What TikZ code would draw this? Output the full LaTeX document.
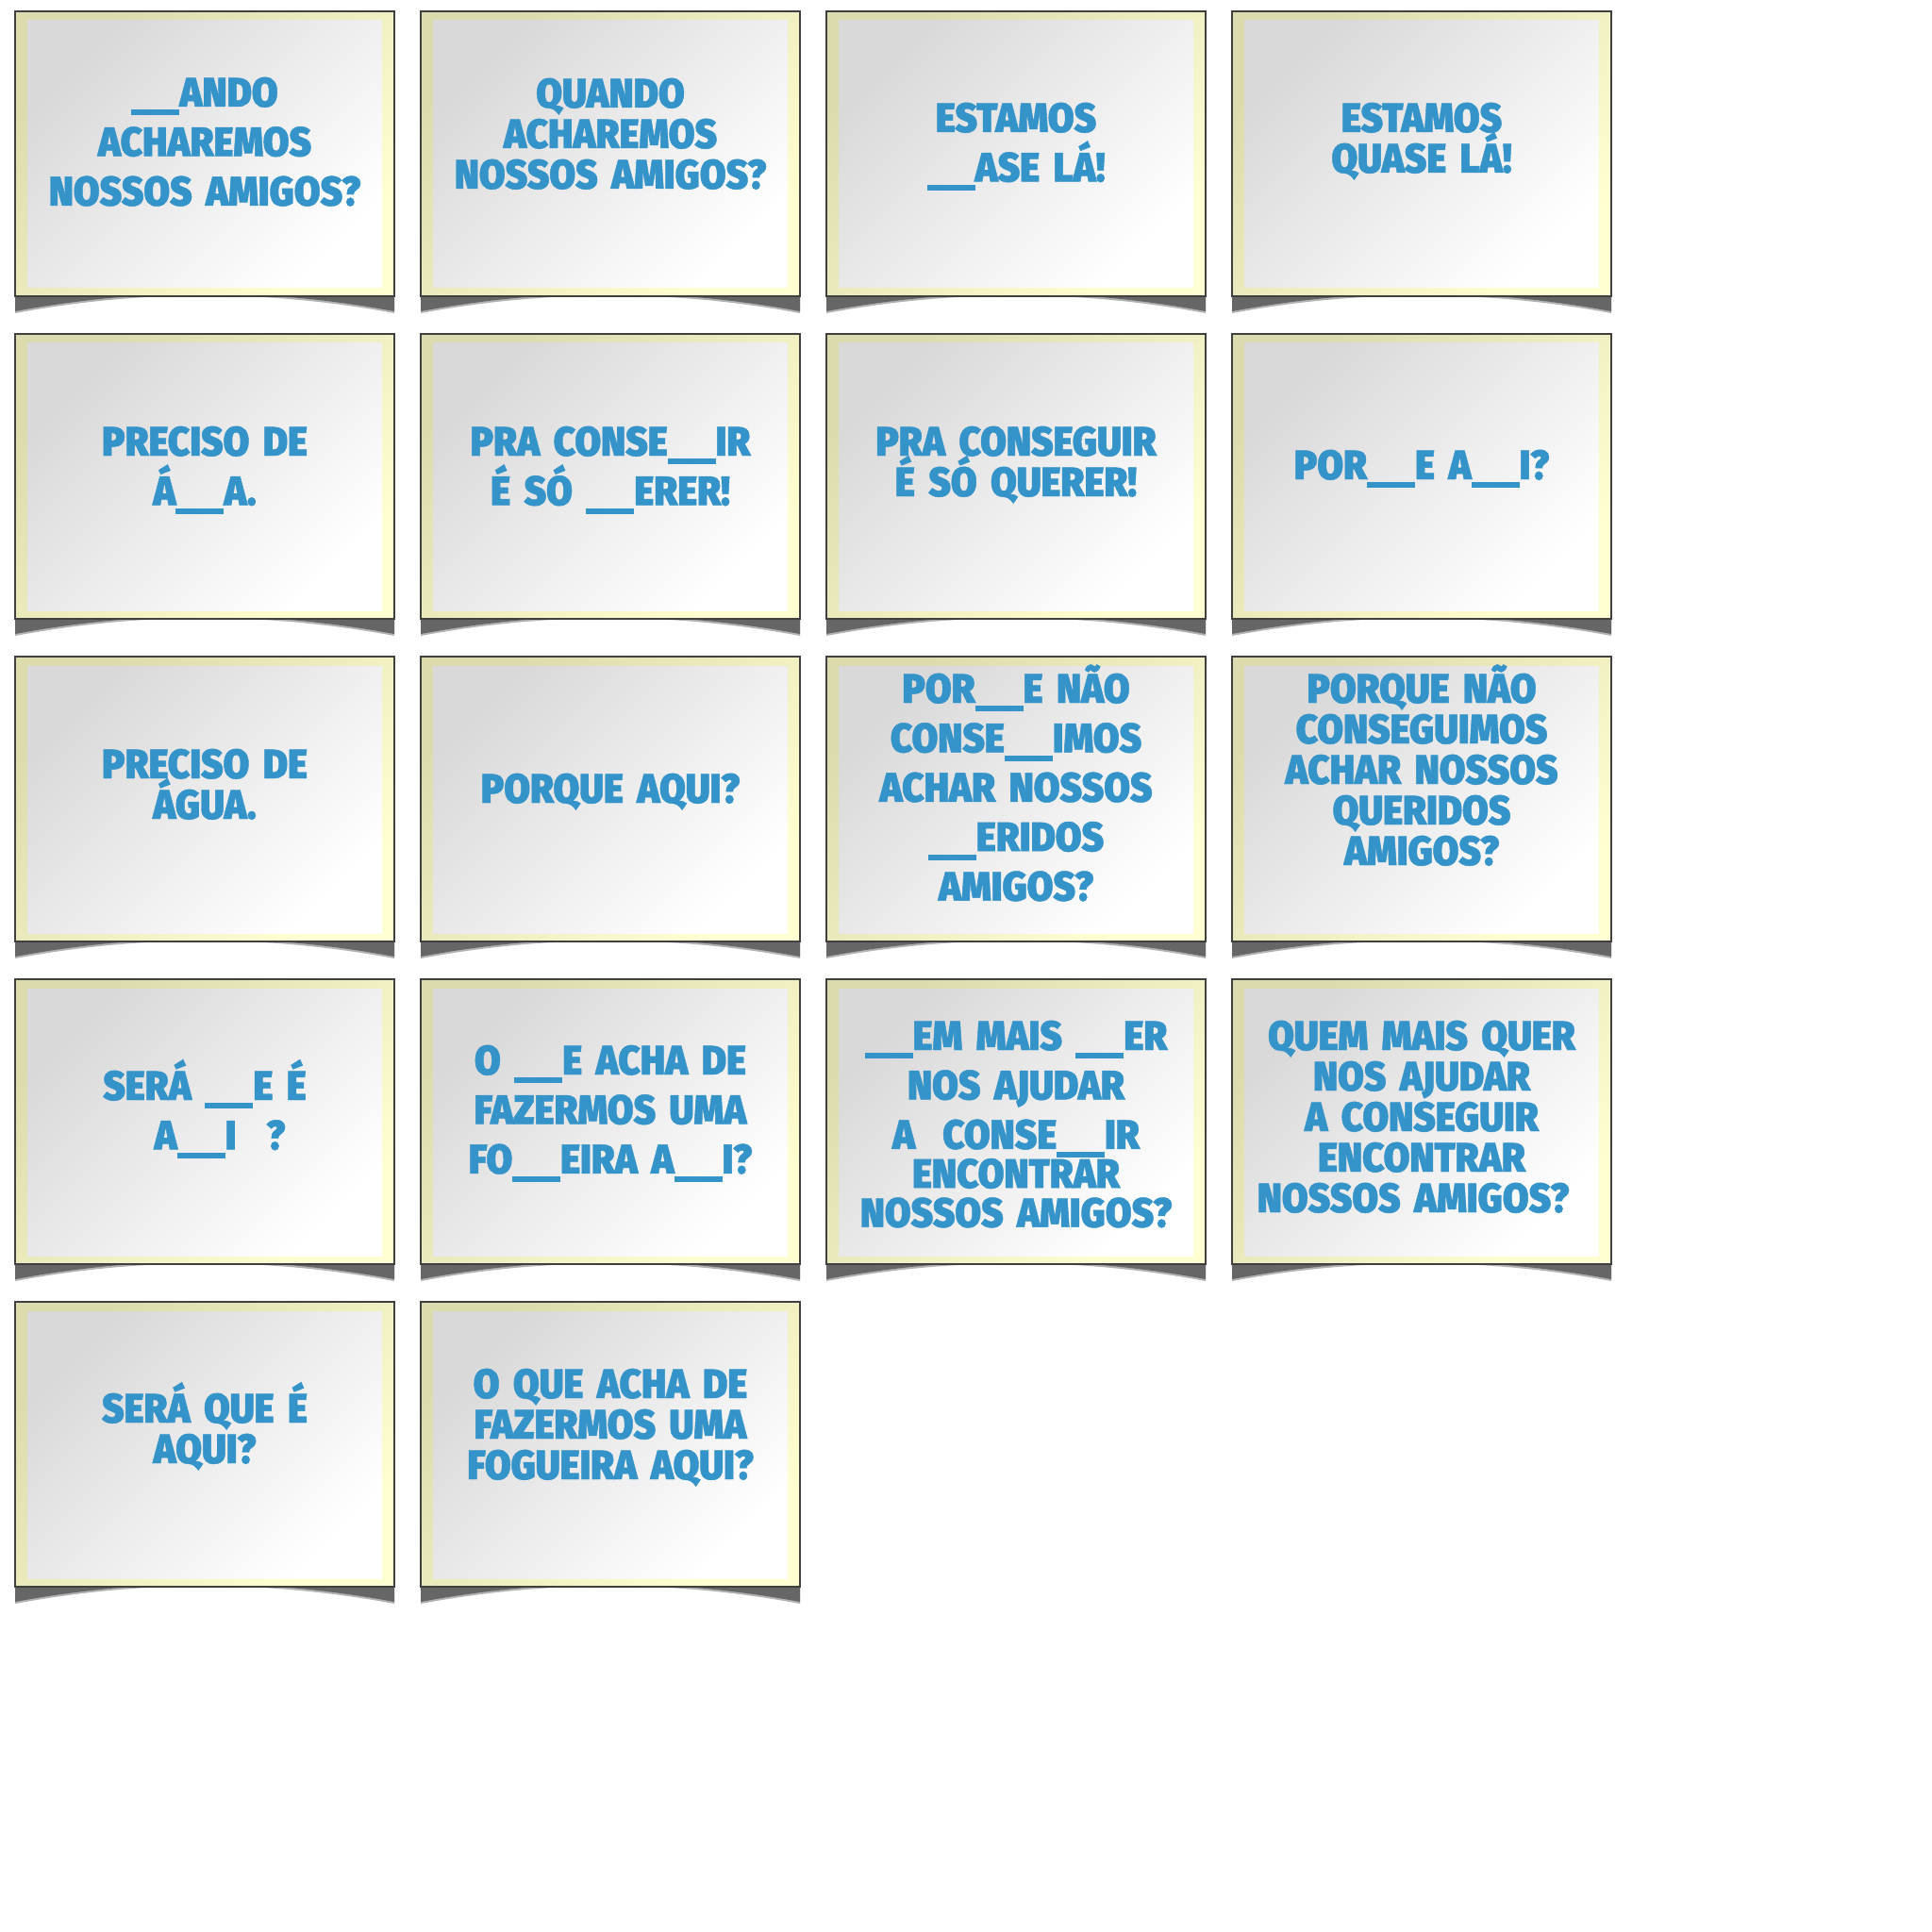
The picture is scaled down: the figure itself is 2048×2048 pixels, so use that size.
\documentclass[tikz,border=0pt]{standalone}
\usepackage{fontspec}
\usepackage{tikz}
\usepackage{xcolor}
\newfontfamily\cardfont{Fira Sans Black}[FakeStretch=0.92, FakeBold=1]
\definecolor{cardblue}{HTML}{3493C8}
\definecolor{bandlow}{HTML}{DCDBAE}
\definecolor{bandhigh}{HTML}{FFFFD2}
\newcommand{\gap}{\rule[-4.7pt]{25.5pt}{3pt}}
\newcommand{\blanksize}{\fontsize{21.8}{26.2}\selectfont\lineskiplimit=-100pt\relax}
\newcommand{\fullsize}{\fontsize{21.8}{21.5}\selectfont\lineskiplimit=-100pt\relax}
\tikzset{x=0.5pt, y=-0.5pt,
 cardedge/.style={draw=black!75, line width=0.8pt},
 cardband/.style={top color=bandlow, bottom color=bandhigh, shading angle=45},
 cardface/.style={top color=black!15, middle color=black!3, bottom color=white, shading angle=45},
 cardshadow/.style={fill=black!60},
 blanktext/.style={anchor=base, inner sep=0pt, text width=190pt, align=center, text=cardblue,
   font=\cardfont\blanksize},
 fulltext/.style={blanktext, font=\cardfont\fullsize},
 }

\begin{document}
\begin{tikzpicture}
        \useasboundingbox (0, 0) rectangle (2048, 2048);
        \fill[white] (0, 0) rectangle (2048, 2048);

        % card frames
        \foreach \c/\r in {0/0, 1/0, 2/0, 3/0, 0/1, 1/1, 2/1, 3/1, 0/2, 1/2, 2/2, 3/2, 0/3, 1/3, 2/3, 3/3, 0/4, 1/4} {
            \pgfmathsetmacro{\x}{16+430*\c}
            \pgfmathsetmacro{\y}{12+342*\r}
            \fill[black!30] (\x, \y+294) -- (\x, \y+320) .. controls (\x+134, \y+295) and (\x+268, \y+295) .. (\x+402, \y+320) -- (\x+402, \y+294) -- cycle;
            \fill[cardshadow] (\x, \y+294) -- (\x, \y+318) .. controls (\x+134, \y+293) and (\x+268, \y+293) .. (\x+402, \y+318) -- (\x+402, \y+294) -- cycle;
            \shade[cardband] (\x, \y) rectangle (\x+402, \y+302);
            \shade[cardface] (\x+13, \y+10) rectangle (\x+389, \y+293);
            \draw[cardedge] (\x, \y) rectangle (\x+402, \y+302);
        }

        % row 1
        \node[blanktext] (quando) at (217, 113) {\gap ANDO\\ACHAREMOS\\NOSSOS AMIGOS?};
        \node[fulltext] (quandofull) at (647, 114) {QUANDO\\ACHAREMOS\\NOSSOS AMIGOS?};
        \node[blanktext] (quase) at (1077, 140) {ESTAMOS\\\gap ASE LÁ!};
        \node[fulltext] (quasefull) at (1507, 140) {ESTAMOS\\QUASE LÁ!};

        % row 2
        \node[blanktext] (agua) at (217, 483) {PRECISO DE\\Á\gap A.};
        \node[blanktext] (querer) at (647, 483) {PRA CONSE\gap IR\\É SÓ \gap ERER!};
        \node[fulltext] (supquerer) at (1077, 483) {PRA CONSEGUIR\\É SÓ QUERER!};
        \node[blanktext] (aqui) at (1507, 508) {POR\gap E A\gap I?};

        % row 3
        \node[fulltext] (aguafull) at (217, 825) {PRECISO DE\\ÁGUA.};
        \node[fulltext] (aquifull) at (647, 851) {PORQUE AQUI?};
        \node[blanktext] (queridos) at (1077, 745) {POR\gap E NÃO\\CONSE\gap IMOS\\ACHAR NOSSOS\\\gap ERIDOS\\AMIGOS?};
        \node[fulltext] (queridosfull) at (1507, 745) {PORQUE NÃO\\CONSEGUIMOS\\ACHAR NOSSOS\\QUERIDOS\\AMIGOS?};

        % row 4
        \node[blanktext] (sera) at (217, 1166) {SERÁ \gap E É\\\hspace*{16pt}A\gap I\hspace{16pt}?};
        \node[blanktext] (fogueira) at (647, 1139) {O \gap E ACHA DE\\FAZERMOS UMA\\FO\gap EIRA A\gap I?};
        \node[blanktext] (ajudar) at (1077, 1113) {\gap EM MAIS \gap ER\\NOS AJUDAR\\A~ CONSE\gap IR\\[-5.5pt]ENCONTRAR\\[-5.5pt]NOSSOS AMIGOS?};
        \node[fulltext] (ajudarfull) at (1507, 1113) {QUEM MAIS QUER\\NOS AJUDAR\\A CONSEGUIR\hspace*{23pt}\\ENCONTRAR\hspace*{8pt}\\NOSSOS AMIGOS?\hspace*{9pt}};

        % row 5
        \node[fulltext] (serafull) at (217, 1508) {SERÁ QUE É\\AQUI?};
        \node[fulltext] (fogueirafull) at (647, 1482) {O QUE ACHA DE\\FAZERMOS UMA\\FOGUEIRA AQUI?};
    \end{tikzpicture}
\end{document}
